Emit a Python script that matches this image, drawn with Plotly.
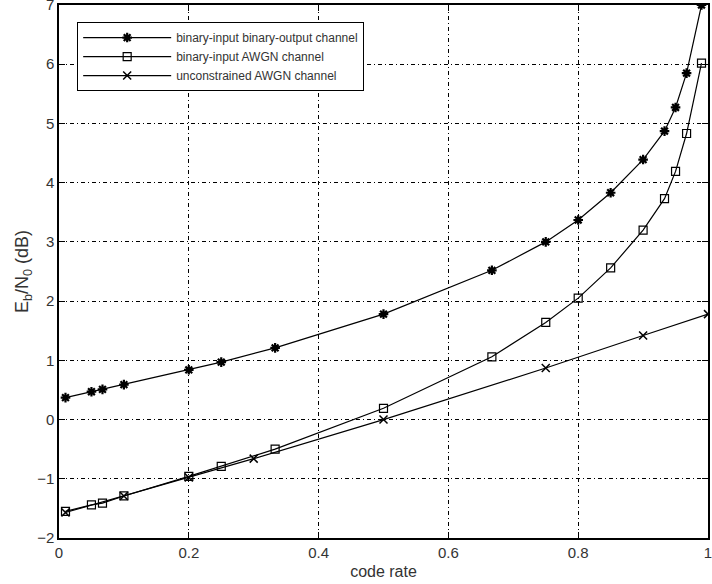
import plotly.graph_objects as go

# Binary-input binary-output channel
bsc_rate = [0.01, 0.05, 0.067, 0.1, 0.2, 0.25, 0.333, 0.5, 0.667, 0.75, 0.8, 0.85, 0.9, 0.933, 0.95, 0.967, 0.99]
bsc_ebn0 = [0.37, 0.47, 0.51, 0.59, 0.84, 0.97, 1.21, 1.78, 2.52, 3.0, 3.37, 3.83, 4.39, 4.87, 5.27, 5.85, 7.0]

# Binary-input AWGN channel
biawgn_rate = [0.01, 0.05, 0.067, 0.1, 0.2, 0.25, 0.333, 0.5, 0.667, 0.75, 0.8, 0.85, 0.9, 0.933, 0.95, 0.967, 0.99]
biawgn_ebn0 = [-1.55, -1.44, -1.41, -1.29, -0.96, -0.79, -0.5, 0.19, 1.06, 1.64, 2.05, 2.56, 3.2, 3.73, 4.19, 4.83, 6.02]

# Unconstrained AWGN channel
awgn_rate = [0.01, 0.1, 0.2, 0.3, 0.5, 0.75, 0.9, 1.0]
awgn_ebn0 = [-1.57, -1.29, -0.98, -0.66, 0.0, 0.87, 1.42, 1.78]

names = ["binary-input binary-output channel", "binary-input AWGN channel", "unconstrained AWGN channel"]

x_ticks = [0, 0.2, 0.4, 0.6, 0.8, 1]
x_tick_text = ["0", "0.2", "0.4", "0.6", "0.8", "1"]
y_ticks = [-2, -1, 0, 1, 2, 3, 4, 5, 6, 7]

font = "Liberation Sans, Arial, Helvetica, sans-serif"

fig = go.Figure()
fig.add_trace(go.Scatter(x=bsc_rate, y=bsc_ebn0, mode="lines+markers", name=names[0],
                         line=dict(color="black", width=1.2),
                         marker=dict(symbol="asterisk-open", size=8, color="black",
                                     line=dict(color="black", width=2.2))))
fig.add_trace(go.Scatter(x=biawgn_rate, y=biawgn_ebn0, mode="lines+markers", name=names[1],
                         line=dict(color="black", width=1.2),
                         marker=dict(symbol="square-open", size=8, color="black",
                                     line=dict(color="black", width=1.2))))
fig.add_trace(go.Scatter(x=awgn_rate, y=awgn_ebn0, mode="lines+markers", name=names[2],
                         line=dict(color="black", width=1.2),
                         marker=dict(symbol="x-thin-open", size=8, color="black",
                                     line=dict(color="black", width=1.5))))

axis_common = dict(showgrid=True, gridcolor="black", gridwidth=1, griddash="4px,3px,1px,3px",
                   showline=True, linecolor="black", linewidth=1.5, mirror="ticks",
                   ticks="inside", ticklen=6, tickcolor="black", zeroline=False,
                   ticklabeloverflow="allow", automargin=False,
                   tickfont=dict(family=font, size=15, color="#333"))

fig.update_xaxes(range=[0, 1], tickvals=x_ticks, ticktext=x_tick_text,
                 title=dict(text="code rate", font=dict(family=font, size=16, color="#333"), standoff=6),
                 **axis_common)
fig.update_yaxes(range=[-2, 7], tickvals=y_ticks,
                 title=dict(text="E<sub>b</sub>/N<sub>0</sub> (dB)", font=dict(family=font, size=18, color="#333"), standoff=4),
                 **axis_common)

fig.update_layout(
    width=712, height=584,
    margin=dict(l=59, r=4, t=5, b=46),
    plot_bgcolor="white", paper_bgcolor="white",
    font=dict(family=font, size=14, color="#333"),
    legend=dict(x=0.028, y=0.968, xanchor="left", yanchor="top",
                bgcolor="white", bordercolor="black", borderwidth=1,
                itemwidth=88, font=dict(family=font, size=12, color="#333"),
                tracegroupgap=0),
)

fig.write_html("out.html")
